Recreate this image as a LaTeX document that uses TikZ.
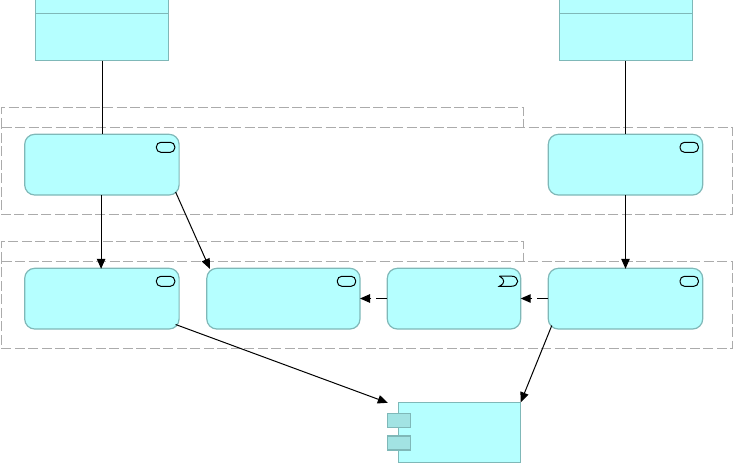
\documentclass[tikz,border=0pt]{standalone}
\usetikzlibrary{arrows.meta,calc}
\definecolor{boxfill}{HTML}{B5FFFF}
\definecolor{boxline}{HTML}{7FB8B8}
\definecolor{tabfill}{HTML}{A2E3E3}
\definecolor{grpline}{HTML}{ABABAB}
\tikzset{
  x=1pt,y=-1pt,
  boxbase/.style={draw=boxline,fill=boxfill,line width=1.2pt,inner sep=0pt,outer sep=0pt,anchor=north west},
  actor/.style={boxbase,rectangle,minimum width=132.6pt,minimum height=61pt},
  proc/.style={boxbase,rectangle,rounded corners=10pt,minimum height=60.7pt},
  comp/.style={boxbase,rectangle,minimum width=122.4pt,minimum height=60.4pt},
  porttab/.style={draw=boxline,fill=tabfill,line width=1.4pt,rectangle,inner sep=0pt,outer sep=0pt,anchor=north west,minimum width=23pt,minimum height=14pt},
  grp/.style={draw=grpline,line width=1pt,dash pattern=on 10pt off 3.5pt},
  icon/.style={draw=black,line width=1pt,rounded corners=4.5pt},
  rel/.style={draw=black,line width=1pt},
  flow/.style={rel,-{Triangle[length=10pt,width=8.5pt]}},
  trig/.style={flow,dash pattern=on 11pt off 5pt},
}
\begin{document}
\begin{tikzpicture}
\useasboundingbox (0,0) rectangle (734,464);
% groups
\draw[grp] (1.5,127.5) -- (1.5,107.5) -- (523.5,107.5) -- (523.5,127.5) -- (732.5,127.5) -- (732.5,214.3) -- (1.5,214.3) -- cycle;
\draw[grp] (1.5,127.5) -- (523.5,127.5);
\draw[grp] (1.5,261.5) -- (1.5,241.3) -- (523.5,241.3) -- (523.5,261.5) -- (732.5,261.5) -- (732.5,348.3) -- (1.5,348.3) -- cycle;
\draw[grp] (1.5,261.5) -- (523.5,261.5);
% nodes
\node[actor] (actorL) at (35.7,-0.3) {};
\draw[draw=boxline,line width=1pt] ($(actorL.north west)+(0,13.6)$) -- ($(actorL.north east)+(0,13.6)$);
\node[actor] (actorR) at (559.7,-0.3) {};
\draw[draw=boxline,line width=1pt] ($(actorR.north west)+(0,13.6)$) -- ($(actorR.north east)+(0,13.6)$);
\node[proc,minimum width=154.4pt] (roleL) at (24.7,134.3) {};
\node[proc,minimum width=154.4pt] (roleR) at (548.3,134.3) {};
\node[proc,minimum width=154.4pt] (procA) at (24.7,268.3) {};
\node[proc,minimum width=153.2pt] (procB) at (206.8,268.3) {};
\node[proc,minimum width=133.4pt] (evt) at (387.3,268.3) {};
\node[proc,minimum width=154.4pt] (procD) at (548.3,268.3) {};
\node[comp] (comp) at (398.3,402.3) {};
\node[porttab] (portA) at (387.3,413.3) {};
\node[porttab] (portB) at (387.3,435.8) {};
% icons
\foreach \n in {roleL,roleR,procA,procB,procD}{
  \draw[icon] ($(\n.north east)+(-22.7,8)$) rectangle ($(\n.north east)+(-4.3,18)$);
}
\draw[draw=black,line width=1pt] ($(evt.north east)+(-21.4,7.8)$) -- ($(evt.north east)+(-9.5,7.8)$)
  .. controls ($(evt.north east)+(-5.5,7.8)$) and ($(evt.north east)+(-3,10)$) .. ($(evt.north east)+(-3,13)$)
  .. controls ($(evt.north east)+(-3,16)$) and ($(evt.north east)+(-5.5,18)$) .. ($(evt.north east)+(-9.5,18)$)
  -- ($(evt.north east)+(-21.4,18)$)
  .. controls ($(evt.north east)+(-18,16)$) and ($(evt.north east)+(-17,15)$) .. ($(evt.north east)+(-17,13)$)
  .. controls ($(evt.north east)+(-17,11)$) and ($(evt.north east)+(-18,10)$) .. ($(evt.north east)+(-21.4,7.8)$);
% connectors
\draw[rel] (actorL.south) -- (actorL.south |- roleL.north);
\draw[rel] ($(actorR.south)+(-0.5,0)$) -- ($(actorR.south |- roleR.north)+(-0.5,0)$);
\draw[flow] ($(roleL.south)+(-0.8,0)$) -- ($(procA.north)+(-0.8,0.5)$);
\draw[flow] (roleR.south) -- ($(procD.north)+(0,0.5)$);
\draw[flow] ($(roleL.south east)+(-3.5,-3)$) -- ($(procB.north west)+(3,0.5)$);
\draw[trig] (procD.west |- 0,298.5) -- (evt.east |- 0,298.5);
\draw[trig] (evt.west |- 0,298.5) -- (procB.east |- 0,298.5);
\draw[flow] ($(procA.south east)+(-3.5,-4.5)$) -- ($(comp.north west)+(-10.5,0.5)$);
\draw[flow] ($(procD.south west)+(3.5,-3.5)$) -- (comp.north east);
\end{tikzpicture}
\end{document}
